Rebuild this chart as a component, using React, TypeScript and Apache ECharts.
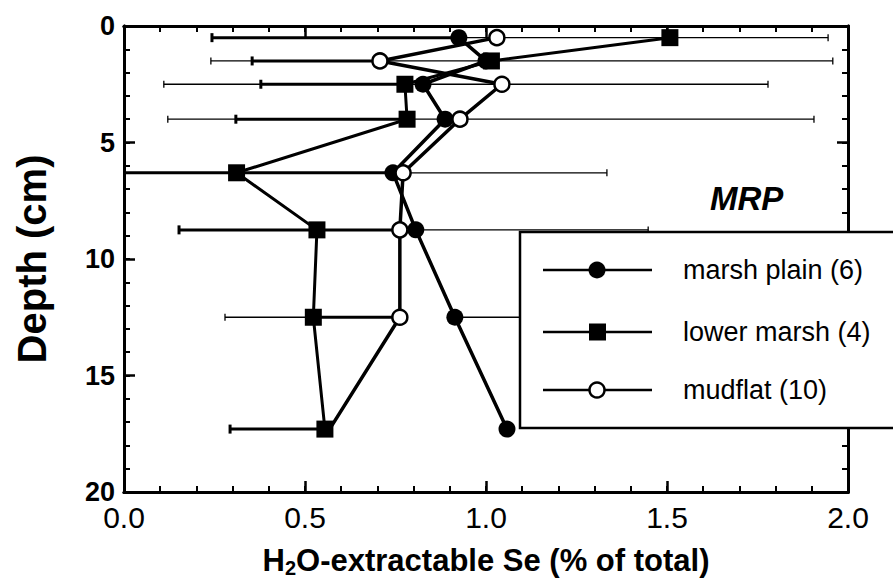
import React, { useEffect, useRef } from "react";
import * as echarts from "echarts";

// depth (cm) of each sampled layer
const depths = [0.5, 1.5, 2.5, 4, 6.3, 8.75, 12.5, 17.3];
// H2O-extractable Se (% of total)
const marshPlain = [0.925, 1.0, 0.826, 0.887, 0.743, 0.806, 0.914, 1.058];
const lowerMarsh = [1.508, 1.015, 0.776, 0.782, 0.311, 0.533, 0.523, 0.555];
const mudflat = [1.03, 0.707, 1.044, 0.928, 0.771, 0.762, 0.762, 0.568];

// error bar segments: [low, high, depth]
const thickBars = [
  [0.243, 0.925, 0.5],
  [0.354, 0.707, 1.5],
  [0.378, 0.776, 2.5],
  [0.309, 0.782, 4],
  [-0.2, 0.771, 6.3],
  [0.152, 0.762, 8.75],
  [0.523, 0.762, 12.5],
  [0.293, 0.555, 17.3],
];
const thinBars = [
  [0.925, 1.945, 0.5],
  [0.24, 1.958, 1.5],
  [0.11, 1.779, 2.5],
  [0.121, 1.906, 4],
  [0.771, 1.334, 6.3],
  [0.762, 1.448, 8.75],
  [0.279, 0.523, 12.5],
  [0.914, 1.25, 12.5],
];

const xTicks = ["0.0", "0.5", "1.0", "1.5", "2.0"];
const legendLabels = ["marsh plain (6)", "lower marsh (4)", "mudflat (10)"];

const FONT = "'Liberation Sans', Arial, sans-serif";
const NARROW = "'Liberation Sans Narrow', 'Liberation Sans', Arial, sans-serif";

function barSeries(data: number[][], lw: number, cap: number) {
  return {
    type: "custom",
    clip: true,
    z: 1,
    encode: { x: [0, 1], y: 2 },
    data,
    renderItem: (params: any, api: any) => {
      const lo = api.value(0);
      const hi = api.value(1);
      const d = api.value(2);
      const p1 = api.coord([lo, d]);
      const p2 = api.coord([hi, d]);
      const st = { stroke: "#000", lineWidth: lw };
      return {
        type: "group",
        children: [
          { type: "line", shape: { x1: p1[0], y1: p1[1], x2: p2[0], y2: p2[1] }, style: st },
          { type: "line", shape: { x1: p1[0], y1: p1[1] - cap, x2: p1[0], y2: p1[1] + cap }, style: st },
          { type: "line", shape: { x1: p2[0], y1: p2[1] - cap, x2: p2[0], y2: p2[1] + cap }, style: st },
        ],
      };
    },
  };
}

export default function App() {
  const ref = useRef<HTMLDivElement>(null);
  useEffect(() => {
    if (!ref.current) return;
    const chart = echarts.init(ref.current, undefined, { renderer: "svg" });
    const axLine = { show: true, onZero: false, lineStyle: { color: "#000", width: 3 } };
    const majorTick = { show: true, inside: true, length: 11, lineStyle: { color: "#000", width: 2.5 } };
    const minorTick = { show: true, inside: true, length: 6, lineStyle: { color: "#000", width: 2 } };
    const noSplit = { splitLine: { show: false } };
    const xMajor = { type: "value", min: 0, max: 2, interval: 0.5, axisLine: axLine, axisTick: majorTick, ...noSplit };
    const xMinor = { type: "value", min: 0, max: 2, interval: 0.1, axisLine: axLine, axisTick: minorTick, axisLabel: { show: false }, ...noSplit };
    const yMajor = { type: "value", min: 0, max: 20, interval: 5, inverse: true, axisLine: axLine, axisTick: majorTick, ...noSplit };
    const yMinor = { type: "value", min: 0, max: 20, interval: 1, inverse: true, axisLine: axLine, axisTick: minorTick, axisLabel: { show: false }, ...noSplit };
    const mk = (arr: number[]) => depths.map((d, i) => [arr[i], d]);
    const mud = mk(mudflat).map((v, i) =>
      i === depths.length - 1 ? { value: v, symbol: "none" } : { value: v }
    );
    const option: any = {
      animation: false,
      backgroundColor: "#fff",
      grid: { left: 124, right: 45, top: 26, bottom: 92, containLabel: false, outerBoundsMode: "none" },
      xAxis: [
        {
          ...xMajor,
          position: "bottom",
          axisLabel: {
            color: "#000",
            fontSize: 30,
            lineHeight: 30,
            fontFamily: NARROW,
            margin: 10,
            formatter: (v: number) => xTicks[Math.round(v / 0.5)] ?? "",
          },
          name: "{a|H}{s|2}{a|O-extractable Se (% of total)}",
          nameLocation: "middle",
          nameGap: 50,
          nameTextStyle: {
            rich: {
              a: { fontSize: 31, fontWeight: "bold", fontFamily: FONT, color: "#000" },
              s: { fontSize: 20, fontWeight: "bold", fontFamily: FONT, color: "#000", padding: [16, 0, 0, 0] },
            },
          },
        },
        { ...xMajor, position: "top", axisLabel: { show: false } },
        { ...xMinor, position: "bottom" },
        { ...xMinor, position: "top" },
      ],
      yAxis: [
        {
          ...yMajor,
          position: "left",
          axisLabel: { color: "#000", fontSize: 27, lineHeight: 24, fontWeight: "bold", fontFamily: FONT, margin: 9, padding: [0, 0, 3, 0] },
          name: "Depth (cm)",
          nameLocation: "middle",
          nameRotate: 90,
          nameGap: 72,
          nameTextStyle: { fontSize: 40, fontWeight: "bold", fontFamily: FONT, color: "#000" },
        },
        { ...yMajor, position: "right", axisLabel: { show: false } },
        { ...yMinor, position: "left" },
        { ...yMinor, position: "right" },
      ],
      series: [
        barSeries(thickBars, 3, 4.5),
        barSeries(thinBars, 1.3, 3.5),
        {
          type: "line",
          name: "marsh plain",
          data: mk(marshPlain),
          symbol: "circle",
          symbolSize: 17,
          z: 3,
          lineStyle: { color: "#000", width: 3.5 },
          itemStyle: { color: "#000", borderWidth: 0 },
        },
        {
          type: "line",
          name: "lower marsh",
          data: mk(lowerMarsh),
          symbol: "rect",
          symbolSize: 17,
          z: 4,
          lineStyle: { color: "#000", width: 3 },
          itemStyle: { color: "#000", borderWidth: 0 },
        },
        {
          type: "line",
          name: "mudflat",
          data: mud,
          symbol: "circle",
          symbolSize: 15,
          z: 5,
          lineStyle: { color: "#000", width: 3.5 },
          itemStyle: { color: "#fff", borderColor: "#000", borderWidth: 2.5 },
        },
      ],
      graphic: [
        {
          type: "text",
          left: 710,
          top: 182,
          z: 20,
          style: { text: "MRP", fontSize: 33, fontWeight: "bold", fontStyle: "italic", fontFamily: FONT, fill: "#000" },
        },
        {
          type: "group",
          z: 30,
          children: [
            { type: "rect", shape: { x: 520, y: 232, width: 400, height: 196 }, style: { fill: "#fff", stroke: "#000", lineWidth: 2.5 }, z: 30 },
            ...[270, 332, 390].flatMap((y, i) => {
              const marker =
                i === 0
                  ? { type: "circle", shape: { cx: 597, cy: y, r: 8.5 }, style: { fill: "#000" }, z: 32 }
                  : i === 1
                  ? { type: "rect", shape: { x: 589, y: y - 8.5, width: 17, height: 17 }, style: { fill: "#000" }, z: 32 }
                  : { type: "circle", shape: { cx: 597, cy: y, r: 7.5 }, style: { fill: "#fff", stroke: "#000", lineWidth: 2.5 }, z: 32 };
              return [
                { type: "line", shape: { x1: 543, y1: y, x2: 652, y2: y }, style: { stroke: "#000", lineWidth: 2.5 }, z: 31 },
                marker,
                {
                  type: "text",
                  x: 683,
                  y,
                  z: 32,
                  style: { text: legendLabels[i], fontSize: 27, fontFamily: FONT, fill: "#000", verticalAlign: "middle", align: "left" },
                },
              ];
            }),
          ],
        },
      ],
    };
    chart.setOption(option);
    return () => chart.dispose();
  }, []);
  return (
    <div
      ref={ref}
      style={{ position: "fixed", left: 0, top: 0, width: 893, height: 584, background: "#fff" }}
    />
  );
}
